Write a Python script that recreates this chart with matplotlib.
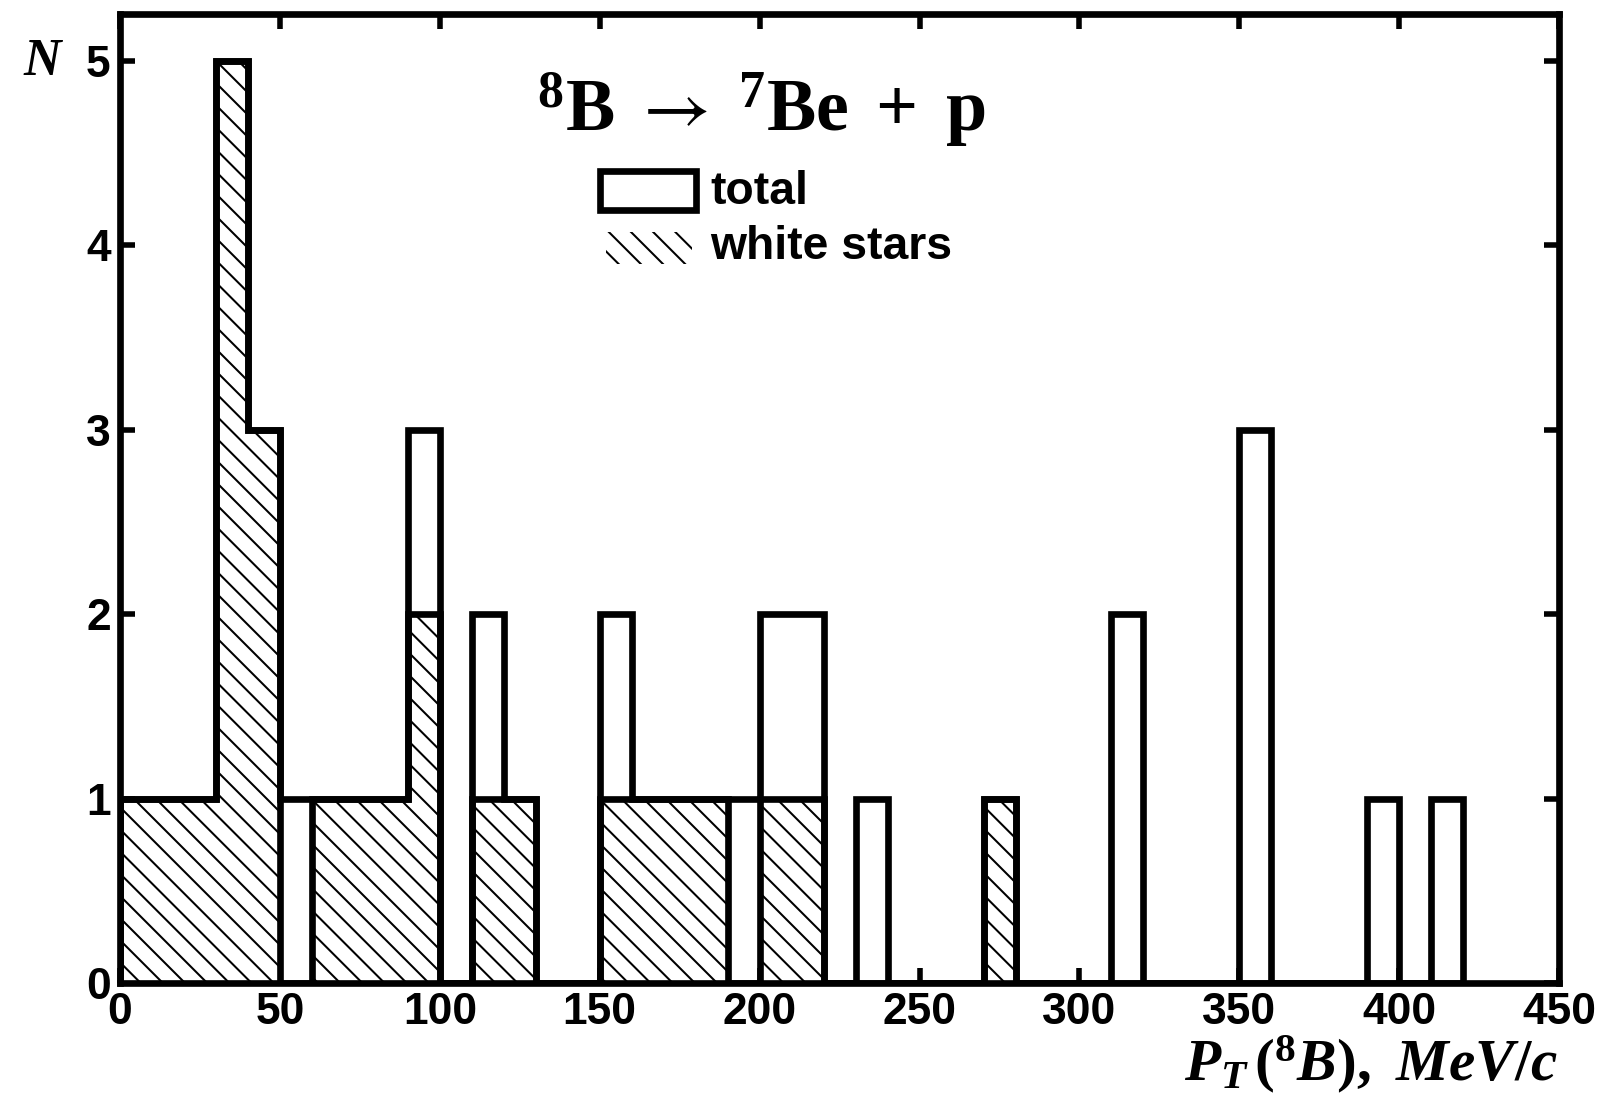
import matplotlib
matplotlib.use("Agg")
import matplotlib.pyplot as plt
from matplotlib.patches import Rectangle

# 10 MeV/c bins, 0 .. 420 MeV/c
bin_edges = list(range(0, 430, 10))
total_counts = [1, 1, 1, 5, 3, 1, 1, 1, 1, 3,
                0, 2, 1, 0, 0, 2, 1, 1, 1, 1,
                2, 2, 0, 1, 0, 0, 0, 1, 0, 0,
                0, 2, 0, 0, 0, 3, 0, 0, 0, 1,
                0, 1]
white_star_counts = [1, 1, 1, 5, 3, 0, 1, 1, 1, 2,
                     0, 1, 1, 0, 0, 1, 1, 1, 1, 0,
                     1, 1, 0, 0, 0, 0, 0, 1, 0, 0,
                     0, 0, 0, 0, 0, 0, 0, 0, 0, 0,
                     0, 0]
x_ticks = [0, 50, 100, 150, 200, 250, 300, 350, 400, 450]
y_ticks = [0, 1, 2, 3, 4, 5]

plt.rcParams["mathtext.fontset"] = "custom"
plt.rcParams["mathtext.rm"] = "Liberation Serif:bold"
plt.rcParams["mathtext.bf"] = "Liberation Serif:bold"
plt.rcParams["mathtext.it"] = "Liberation Serif:italic:bold"
plt.rcParams["mathtext.sf"] = "STIXGeneral"
plt.rcParams["mathtext.fallback"] = "stix"
plt.rcParams["hatch.linewidth"] = 1.1

tick_font = dict(family="Liberation Sans", weight="bold", size=24)

DPI = 400 / 3
fig = plt.figure(figsize=(1600 / DPI, 1113 / DPI), dpi=DPI)
ax = fig.add_axes([0.075, 0.1168, 0.8995, 0.8702])

LW = 3.6
HATCH = "\\\\"
ax.stairs(white_star_counts, bin_edges, fill=True, facecolor="white",
          edgecolor="black", hatch=HATCH, linewidth=LW, zorder=2)
ax.stairs(total_counts, bin_edges, fill=False, color="black",
          linewidth=LW, zorder=3)

ax.set_xlim(0, 450)
ax.set_ylim(0, 5.25)
ax.set_xticks(x_ticks)
ax.set_yticks(y_ticks)
ax.set_xticklabels([str(v) for v in x_ticks], **tick_font)
ax.set_yticklabels([str(v) for v in y_ticks], **tick_font)
ax.tick_params(direction="in", length=8, width=3.0, top=True, right=True)
ax.tick_params(axis="x", pad=5)
ax.tick_params(axis="y", pad=5)
for sp in ax.spines.values():
    sp.set_linewidth(LW)
    sp.set_zorder(4)

# reaction title
ax.text(0.4458, 0.88,
        r"$\mathrm{^{8}B}\;\mathsf{\rightarrow}\;\mathrm{^{7}Be}\;+\;\mathrm{p}$",
        transform=ax.transAxes, ha="center", va="baseline", fontsize=40)

# legend
ax.add_patch(Rectangle((150 / 450, 4.19 / 5.25), 30 / 450, 0.21 / 5.25,
                       transform=ax.transAxes, facecolor="white",
                       edgecolor="black", linewidth=LW, zorder=5))
ax.add_patch(Rectangle((152 / 450, 3.90 / 5.25), 27 / 450, 0.17 / 5.25,
                       transform=ax.transAxes, facecolor="white",
                       edgecolor="black", linewidth=0, hatch=HATCH, zorder=5))
leg_font = dict(family="Liberation Sans", weight="bold", size=25)
ax.text(184.5 / 450, 4.29 / 5.25, "total", transform=ax.transAxes,
        ha="left", va="center", **leg_font)
ax.text(184.5 / 450, 3.99 / 5.25, "white stars", transform=ax.transAxes,
        ha="left", va="center", **leg_font)

# axis labels
fig.text(0.974, 0.029, r"$P_{T}\,(^{\mathit{8}}B),\ MeV/c$",
         ha="right", va="baseline", fontsize=32)
fig.text(42 / 1600, 1 - 62 / 1113, "N", family="Liberation Serif",
         style="italic", weight="bold", fontsize=28, ha="center", va="center")

fig.savefig("out.png", dpi=DPI)
